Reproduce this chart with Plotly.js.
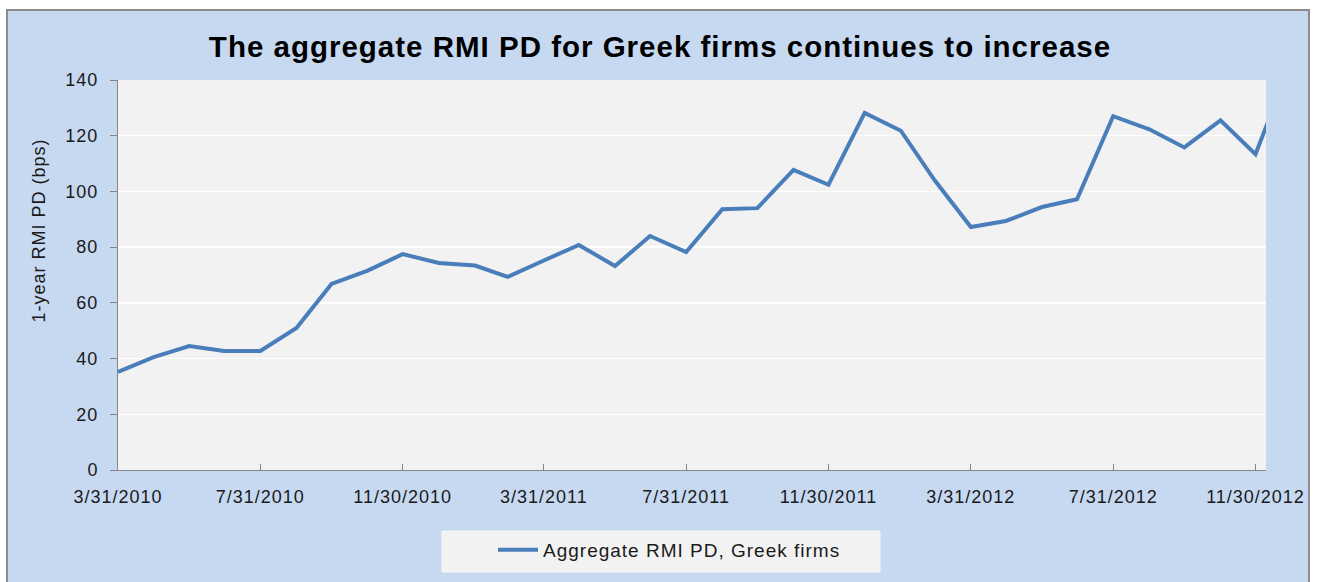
<!DOCTYPE html>
<html>
<head>
<meta charset="utf-8">
<script src="https://cdn.plot.ly/plotly-3.0.1.min.js"></script>
<style>
  html, body { margin: 0; padding: 0; background: #ffffff; width: 1317px; height: 582px; overflow: hidden; }
  #frame { position: absolute; left: 6px; top: 9px; width: 1304px; height: 580px; background: #C6D9F1; border: 2px solid #8C8C8C; box-sizing: border-box; }
  #chart { position: absolute; left: 0; top: 0; width: 1317px; height: 582px; }
  #chart text { letter-spacing: 1px; }
</style>
</head>
<body>
<div id="frame"></div>
<div id="chart"></div>
<script>
const dates = [
  "2010-03-31","2010-04-30","2010-05-31","2010-06-30","2010-07-31","2010-08-31","2010-09-30","2010-10-31","2010-11-30","2010-12-31",
  "2011-01-31","2011-02-28","2011-03-31","2011-04-30","2011-05-31","2011-06-30","2011-07-31","2011-08-31","2011-09-30","2011-10-31",
  "2011-11-30","2011-12-31","2012-01-31","2012-02-29","2012-03-31","2012-04-30","2012-05-31","2012-06-30","2012-07-31","2012-08-31",
  "2012-09-30","2012-10-31","2012-11-30","2012-12-31"
];
const rmiPD = [
  35.2, 40.4, 44.5, 42.7, 42.7, 51.0, 66.8, 71.6, 77.5, 74.3,
  73.4, 69.3, 75.2, 80.8, 73.2, 84.0, 78.2, 93.6, 94.0, 107.7,
  102.4, 128.2, 121.8, 104.0, 87.2, 89.4, 94.4, 97.2, 127.0, 122.3,
  115.8, 125.5, 113.4, 147.0
];
const tickDates = ["2010-03-31","2010-07-31","2010-11-30","2011-03-31","2011-07-31","2011-11-30","2012-03-31","2012-07-31","2012-11-30"];
const tickLabels = ["3/31/2010","7/31/2010","11/30/2010","3/31/2011","7/31/2011","11/30/2011","3/31/2012","7/31/2012","11/30/2012"];
const yTicks = [0, 20, 40, 60, 80, 100, 120, 140];
const seriesName = "Aggregate RMI PD, Greek firms";
const yTitle = "1-year RMI PD (bps)";
const chartTitle = "The aggregate RMI PD for Greek firms continues to increase";

const font = "Liberation Sans, Arial, sans-serif";
const plotL = 118, plotT = 80, plotW = 1148, plotH = 390;
const px2x = (px) => (px - plotL) / plotW;
const px2y = (py) => (plotT + plotH - py) / plotH;

const trace = {
  x: dates,
  y: rmiPD,
  type: "scatter",
  mode: "lines",
  name: seriesName,
  line: { color: "#4A7EBB", width: 4 }
};

const layout = {
  width: 1317,
  height: 582,
  paper_bgcolor: "rgba(0,0,0,0)",
  plot_bgcolor: "#F2F2F2",
  margin: { l: plotL, r: 1317 - plotL - plotW, t: plotT, b: 582 - plotT - plotH, pad: 0 },
  font: { family: font, color: "#1a1a1a", size: 17 },
  title: {
    text: "<b>" + chartTitle + "</b>",
    font: { family: font, size: 29.5, color: "#000000" },
    x: 660 / 1317, xanchor: "center", xref: "container",
    y: 1 - 47 / 582, yanchor: "middle", yref: "container"
  },
  xaxis: {
    type: "date",
    range: ["2010-03-31", "2012-12-09"],
    tickmode: "array",
    tickvals: tickDates,
    ticktext: tickLabels,
    ticks: "inside",
    ticklen: 6,
    tickcolor: "#868686",
    showline: true,
    linecolor: "#868686",
    linewidth: 1,
    showgrid: false,
    zeroline: false,
    tickfont: { family: font, size: 18, color: "#1a1a1a" },
    ticklabelstandoff: 10,
    fixedrange: true
  },
  yaxis: {
    range: [0, 140],
    tickmode: "array",
    tickvals: yTicks,
    ticks: "outside",
    ticklen: 7,
    tickcolor: "#868686",
    showline: true,
    linecolor: "#868686",
    linewidth: 1,
    showgrid: true,
    gridcolor: "#FFFFFF",
    gridwidth: 1.5,
    zeroline: false,
    tickfont: { family: font, size: 18, color: "#1a1a1a" },
    ticklabelstandoff: 8,
    automargin: false,
    fixedrange: true
  },
  annotations: [{
    text: yTitle,
    textangle: -90,
    xref: "paper", yref: "paper",
    x: px2x(39), y: px2y(231),
    xanchor: "center", yanchor: "middle",
    showarrow: false,
    font: { family: font, size: 18, color: "#1a1a1a" }
  }],
  shapes: [{
    type: "rect",
    xref: "paper", yref: "paper",
    x0: px2x(442), x1: px2x(880),
    y0: px2y(572), y1: px2y(531),
    fillcolor: "#F2F2F2",
    line: { width: 1, color: "#F6F6F6" },
    layer: "below"
  }],
  showlegend: true,
  legend: {
    orientation: "h",
    x: px2x(493),
    xanchor: "left",
    y: px2y(531),
    yanchor: "top",
    bgcolor: "rgba(0,0,0,0)",
    borderwidth: 0,
    itemwidth: 40,
    entrywidth: 370,
    font: { family: font, size: 19, color: "#1a1a1a" }
  }
};

Plotly.newPlot("chart", [trace], layout, { displayModeBar: false, staticPlot: true });
</script>
</body>
</html>
